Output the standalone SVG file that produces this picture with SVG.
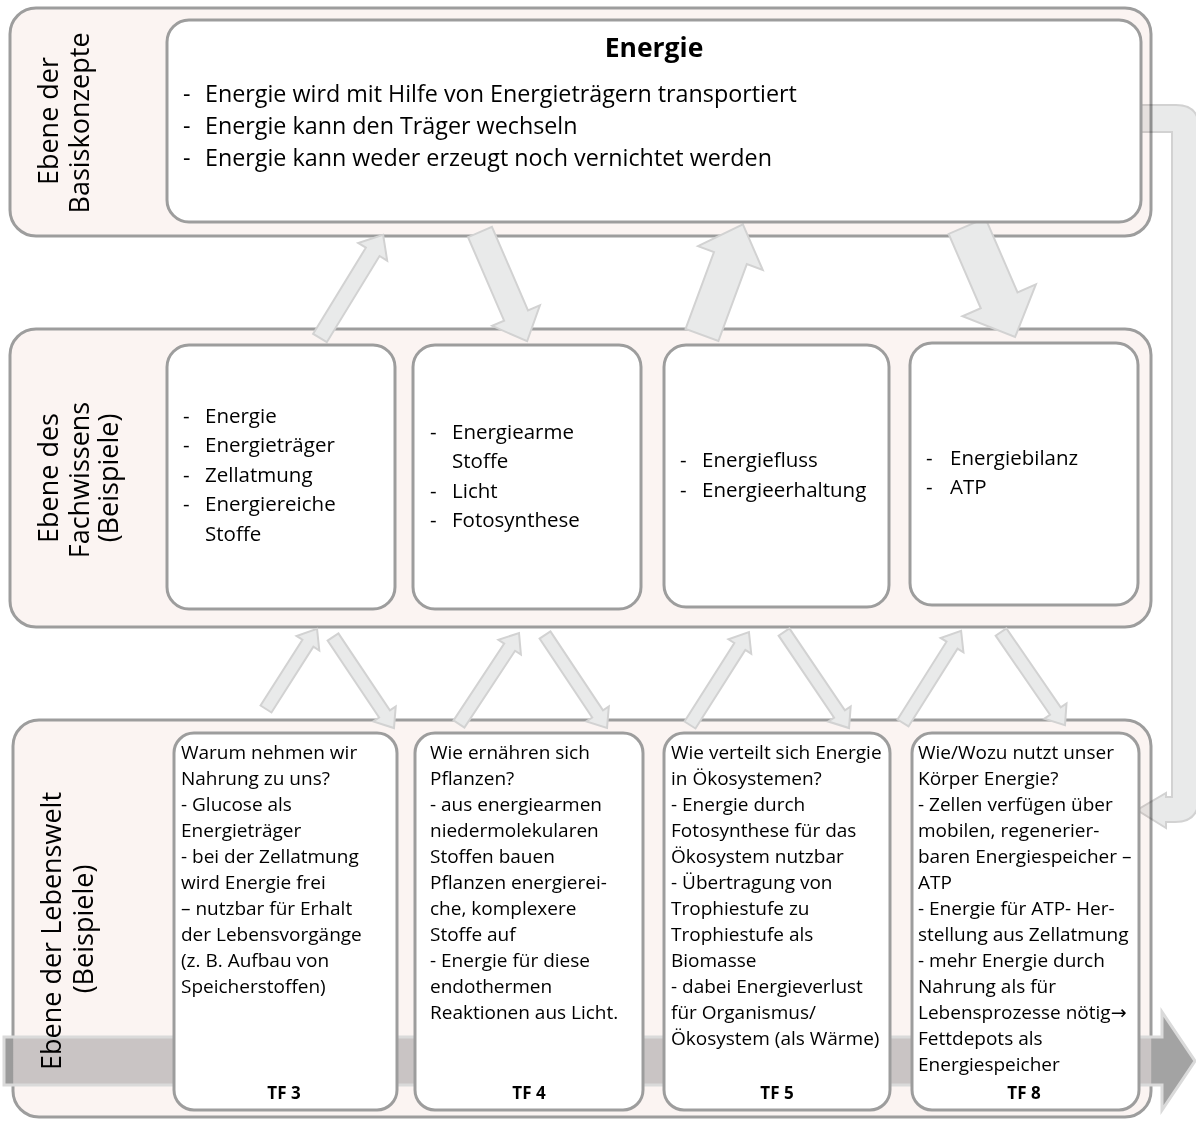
<svg xmlns="http://www.w3.org/2000/svg" width="1196" height="1122" viewBox="0 0 1196 1122">
<defs>
<style>
.band{fill:#f7e9e5;fill-opacity:0.5;stroke:#9d9d9d;stroke-width:3}
.box{fill:#ffffff;stroke:#9d9d9d;stroke-width:3}
.arr{fill:#e9eaea;stroke:#d2d2d2;stroke-width:2;stroke-linejoin:miter}
.t{font-family:'Open Sans','Liberation Sans',sans-serif;fill:#000}
.lab{font-size:27px;text-anchor:middle}
.main{font-size:23.3px}
.mid{font-size:20.5px}
.low{font-size:19px}
.tf{font-size:17px;font-weight:bold;text-anchor:middle}
</style>
<linearGradient id="bigGrad" gradientUnits="userSpaceOnUse" x1="0" y1="0" x2="1196" y2="0">
<stop offset="0" stop-color="#9b9b9b"/>
<stop offset="0.0105" stop-color="#9b9b9b"/>
<stop offset="0.0115" stop-color="#c9c4c4"/>
<stop offset="0.962" stop-color="#c9c4c4"/>
<stop offset="0.963" stop-color="#a3a3a3"/>
<stop offset="1" stop-color="#a3a3a3"/>
</linearGradient>
</defs>
<rect width="1196" height="1122" fill="#ffffff"/>

<g id="level-basiskonzepte"><rect class="band" x="10" y="8" width="1141" height="228" rx="26"/></g>
<g id="level-fachwissen"><rect class="band" x="10" y="329" width="1141" height="298" rx="26"/></g>
<g id="level-lebenswelt"><rect class="band" x="13" y="720" width="1138" height="397" rx="26"/></g>

<g id="connectors">
<path d="M4,1037 H1162 V1012 L1195,1061 L1162,1110 V1085 H4 Z" fill="url(#bigGrad)" stroke="#dadada" stroke-width="3"/>
<path d="M1140,105 H1176 Q1199,105 1199,128 V797 Q1199,822 1175,822 H1166 V828 L1137,810 L1166,793 V797 H1172 V132 H1140 Z" fill="#e9eaea" stroke="#d2d2d2" stroke-width="2" style="mix-blend-mode:multiply"/>
<polygon class="arr" transform="translate(320,338) rotate(-58.55)" points="0,-8 101,-8 101,-17 121,0 101,17 101,8 0,8"/>
<polygon class="arr" transform="translate(480,232) rotate(66.67)" points="0,-13 91,-13 91,-26 119,0 91,26 91,13 0,13"/>
<polygon class="arr" transform="translate(702,335) rotate(-69.73)" points="0,-17.5 82,-17.5 82,-34.5 118,0 82,34.5 82,17.5 0,17.5"/>
<polygon class="arr" transform="translate(967,226) rotate(66.6)" points="0,-20 81,-20 81,-40 121,0 81,40 81,20 0,20"/>
<polygon class="arr" transform="translate(266,709) rotate(-57.5)" points="0,-6.5 78,-6.5 78,-13.5 95,0 78,13.5 78,6.5 0,6.5"/>
<polygon class="arr" transform="translate(333,637) rotate(56.2)" points="0,-6.5 92.6,-6.5 92.6,-13.5 109.6,0 92.6,13.5 92.6,6.5 0,6.5"/>
<polygon class="arr" transform="translate(459,724) rotate(-56.6)" points="0,-6.5 92,-6.5 92,-13.5 109,0 92,13.5 92,6.5 0,6.5"/>
<polygon class="arr" transform="translate(545,635) rotate(56.3)" points="0,-6.5 94.8,-6.5 94.8,-13.5 111.8,0 94.8,13.5 94.8,6.5 0,6.5"/>
<polygon class="arr" transform="translate(690,725) rotate(-57.6)" points="0,-6.5 93,-6.5 93,-13.5 110,0 93,13.5 93,6.5 0,6.5"/>
<polygon class="arr" transform="translate(784,632) rotate(55.9)" points="0,-6.5 99,-6.5 99,-13.5 116,0 99,13.5 99,6.5 0,6.5"/>
<polygon class="arr" transform="translate(903,723) rotate(-57.8)" points="0,-6.5 92,-6.5 92,-13.5 109,0 92,13.5 92,6.5 0,6.5"/>
<polygon class="arr" transform="translate(1001,632) rotate(55.5)" points="0,-6.5 96,-6.5 96,-13.5 113,0 96,13.5 96,6.5 0,6.5"/>
</g>

<g id="label-basiskonzepte" class="t lab">
<text transform="translate(58,121) rotate(-90)">Ebene der</text>
<text transform="translate(89,123) rotate(-90)">Basiskonzepte</text>
</g>
<g id="label-fachwissen" class="t lab">
<text transform="translate(58,478) rotate(-90)">Ebene des</text>
<text transform="translate(89,480) rotate(-90)">Fachwissens</text>
<text transform="translate(118,478) rotate(-90)">(Beispiele)</text>
</g>
<g id="label-lebenswelt" class="t lab">
<text transform="translate(61,931) rotate(-90)">Ebene der Lebenswelt</text>
<text transform="translate(93,929) rotate(-90)">(Beispiele)</text>
</g>

<g id="energie">
<rect class="box" x="167" y="20" width="974" height="202" rx="22"/>
<text class="t" x="654" y="57" font-size="26.5" font-weight="bold" text-anchor="middle">Energie</text>
<g class="t main">
<text x="183" y="102">-</text><text x="205" y="102">Energie wird mit Hilfe von Energieträgern transportiert</text>
<text x="183" y="134">-</text><text x="205" y="134">Energie kann den Träger wechseln</text>
<text x="183" y="166">-</text><text x="205" y="166">Energie kann weder erzeugt noch vernichtet werden</text>
</g>
</g>

<g id="fach-1">
<rect class="box" x="167" y="345" width="228" height="264" rx="22"/>
<g class="t mid">
<text x="183" y="423">-</text><text x="205" y="423">Energie</text>
<text x="183" y="452">-</text><text x="205" y="452">Energieträger</text>
<text x="183" y="482">-</text><text x="205" y="482">Zellatmung</text>
<text x="183" y="511">-</text><text x="205" y="511">Energiereiche</text>
<text x="205" y="541">Stoffe</text>
</g>
</g>
<g id="fach-2">
<rect class="box" x="413" y="345" width="228" height="264" rx="22"/>
<g class="t mid">
<text x="430" y="439">-</text><text x="452" y="439">Energiearme</text>
<text x="452" y="468">Stoffe</text>
<text x="430" y="498">-</text><text x="452" y="498">Licht</text>
<text x="430" y="527">-</text><text x="452" y="527">Fotosynthese</text>
</g>
</g>
<g id="fach-3">
<rect class="box" x="664" y="345" width="225" height="262" rx="22"/>
<g class="t mid">
<text x="680" y="467">-</text><text x="702" y="467">Energiefluss</text>
<text x="680" y="497">-</text><text x="702" y="497">Energieerhaltung</text>
</g>
</g>
<g id="fach-4">
<rect class="box" x="910" y="343" width="228" height="262" rx="22"/>
<g class="t mid">
<text x="926" y="465">-</text><text x="950" y="465">Energiebilanz</text>
<text x="926" y="494">-</text><text x="950" y="494">ATP</text>
</g>
</g>

<g id="welt-tf3">
<rect class="box" x="174" y="733" width="223" height="377" rx="20"/>
<g class="t low">
<text x="181" y="759">Warum nehmen wir</text>
<text x="181" y="785">Nahrung zu uns?</text>
<text x="181" y="811">- Glucose als</text>
<text x="181" y="837">Energieträger</text>
<text x="181" y="863">- bei der Zellatmung</text>
<text x="181" y="889">wird Energie frei</text>
<text x="181" y="915">– nutzbar für Erhalt</text>
<text x="181" y="941">der Lebensvorgänge</text>
<text x="181" y="967">(z. B. Aufbau von</text>
<text x="181" y="993">Speicherstoffen)</text>
</g>
<text class="t tf" x="284" y="1099">TF 3</text>
</g>
<g id="welt-tf4">
<rect class="box" x="415" y="733" width="228" height="377" rx="20"/>
<g class="t low">
<text x="430" y="759">Wie ernähren sich</text>
<text x="430" y="785">Pflanzen?</text>
<text x="430" y="811">- aus energiearmen</text>
<text x="430" y="837">niedermolekularen</text>
<text x="430" y="863">Stoffen bauen</text>
<text x="430" y="889">Pflanzen energierei-</text>
<text x="430" y="915">che, komplexere</text>
<text x="430" y="941">Stoffe auf</text>
<text x="430" y="967">- Energie für diese</text>
<text x="430" y="993">endothermen</text>
<text x="430" y="1019">Reaktionen aus Licht.</text>
</g>
<text class="t tf" x="529" y="1099">TF 4</text>
</g>
<g id="welt-tf5">
<rect class="box" x="664" y="733" width="226" height="377" rx="20"/>
<g class="t low">
<text x="671" y="759">Wie verteilt sich Energie</text>
<text x="671" y="785">in Ökosystemen?</text>
<text x="671" y="811">- Energie durch</text>
<text x="671" y="837">Fotosynthese für das</text>
<text x="671" y="863">Ökosystem nutzbar</text>
<text x="671" y="889">- Übertragung von</text>
<text x="671" y="915">Trophiestufe zu</text>
<text x="671" y="941">Trophiestufe als</text>
<text x="671" y="967">Biomasse</text>
<text x="671" y="993">- dabei Energieverlust</text>
<text x="671" y="1019">für Organismus/</text>
<text x="671" y="1045">Ökosystem (als Wärme)</text>
</g>
<text class="t tf" x="777" y="1099">TF 5</text>
</g>
<g id="welt-tf8">
<rect class="box" x="912" y="733" width="227" height="377" rx="20"/>
<g class="t low">
<text x="918" y="759">Wie/Wozu nutzt unser</text>
<text x="918" y="785">Körper Energie?</text>
<text x="918" y="811">- Zellen verfügen über</text>
<text x="918" y="837">mobilen, regenerier-</text>
<text x="918" y="863">baren Energiespeicher –</text>
<text x="918" y="889">ATP</text>
<text x="918" y="915">- Energie für ATP- Her-</text>
<text x="918" y="941">stellung aus Zellatmung</text>
<text x="918" y="967">- mehr Energie durch</text>
<text x="918" y="993">Nahrung als für</text>
<text x="918" y="1019">Lebensprozesse nötig<tspan font-family="'DejaVu Sans',sans-serif" font-size="19">→</tspan></text>
<text x="918" y="1045">Fettdepots als</text>
<text x="918" y="1071">Energiespeicher</text>
</g>
<text class="t tf" x="1024" y="1099">TF 8</text>
</g>
</svg>
